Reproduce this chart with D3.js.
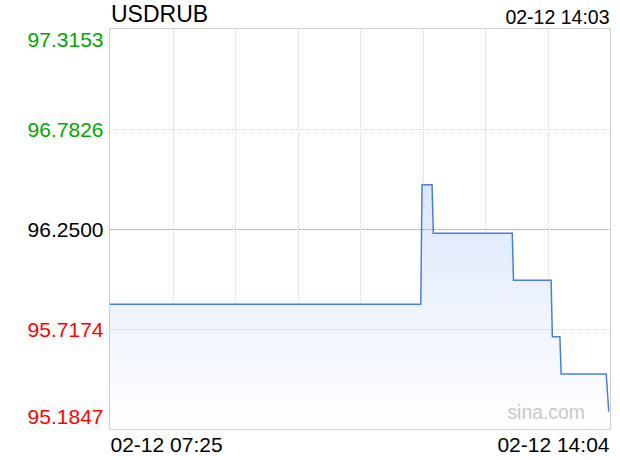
<!DOCTYPE html>
<html><head><meta charset="utf-8">
<script src="https://cdn.jsdelivr.net/npm/d3@7"></script>
<style>
html,body{margin:0;padding:0;background:#fff;}
svg{display:block;font-family:"Liberation Sans",Arial,Helvetica,sans-serif;}
</style></head>
<body>
<svg id="chart" width="620" height="460"></svg>
<script>
const symbol = "USDRUB";
const lastTime = "02-12 14:03";
const xStartLabel = "02-12 07:25";
const xEndLabel = "02-12 14:04";
const yTicks = [97.3153, 96.7826, 96.2500, 95.7174, 95.1847];
const yTickLabels = ["97.3153", "96.7826", "96.2500", "95.7174", "95.1847"];
const prevClose = 96.25;
const times  = ["07:25","11:33","11:34","11:42","11:43","12:46","12:47","13:17","13:18","13:24","13:25","14:01","14:03"];
const prices = [95.849, 95.849, 96.486, 96.486, 96.227, 96.227, 95.977, 95.977, 95.676, 95.676, 95.478, 95.478, 95.277];
const domainStart = "07:25", domainEnd = "14:04";

const parse = d3.timeParse("%H:%M");
const data = times.map((t,i)=>({t:parse(t), v:prices[i]}));

const L=110, R=610, T=29, B=429;
const svg = d3.select("#chart");
const x = d3.scaleTime().domain([parse(domainStart), parse(domainEnd)]).range([L,R]);
const y = d3.scaleLinear().domain([yTicks[4], yTicks[0]]).range([B,T]);

// gradient
const defs = svg.append("defs");
const g = defs.append("linearGradient").attr("id","fillg")
  .attr("gradientUnits","userSpaceOnUse").attr("x1",0).attr("x2",0)
  .attr("y1", y(d3.max(prices))).attr("y2", B);
g.append("stop").attr("offset","0%").attr("stop-color","#dce7fa");
g.append("stop").attr("offset","100%").attr("stop-color","#ffffff");

// vertical grid
const vg = d3.range(1,8).map(k => x.invert(L + k*(R-L)/8));
svg.append("g").selectAll("line").data(vg).join("line")
  .attr("x1",d=>Math.round(x(d))+0.5).attr("x2",d=>Math.round(x(d))+0.5)
  .attr("y1",T).attr("y2",B)
  .attr("stroke","#d4d4d4").attr("stroke-dasharray","1,1");

// area
const area = d3.area().x(d=>x(d.t)).y0(B).y1(d=>y(d.v));
svg.append("path").datum(data).attr("d",area).attr("fill","url(#fillg)");

// horizontal grid
svg.append("g").selectAll("line").data(yTicks.slice(1,4)).join("line")
  .attr("x1",L).attr("x2",R)
  .attr("y1",d=>Math.round(y(d))+0.5).attr("y2",d=>Math.round(y(d))+0.5)
  .attr("stroke",d=>d===prevClose?"#b0b0b0":"#d4d4d4")
  .attr("stroke-dasharray",d=>d===prevClose?"3,1":"1,1");

// line
const line = d3.line().x(d=>x(d.t)).y(d=>y(d.v));
svg.append("path").datum(data).attr("d",line)
  .attr("fill","none").attr("stroke","#4a7fd6").attr("stroke-width",1.5);

// frame
svg.append("rect").attr("x",L-0.5).attr("y",T-0.5).attr("width",R-L+1).attr("height",B-T+1)
  .attr("fill","none").attr("stroke","#d0d0d0");

// y labels
const yAxis = d3.axisLeft(y).tickValues(yTicks).tickSize(0).tickPadding(6)
  .tickFormat((d,i)=>yTickLabels[i]);
const ya = svg.append("g").attr("transform",`translate(${L-0.5},0)`).call(yAxis);
ya.select(".domain").remove();
ya.selectAll("text")
  .attr("font-family","\"Liberation Sans\",Arial,sans-serif")
  .attr("font-size",21)
  .attr("dy",null)
  .attr("y",(d,i)=> i===0 ? 17 : (i===4 ? -6 : 7.5))
  .attr("fill",d=> d>prevClose ? "#00a800" : (d<prevClose ? "#ff0000" : "#000"));

// titles
svg.append("text").attr("x",111).attr("y",22).attr("font-size",23).attr("fill","#000").text(symbol);
svg.append("text").attr("x",609.5).attr("y",24).attr("font-size",19.5).attr("text-anchor","end").attr("fill","#000").text(lastTime);
svg.append("text").attr("x",110.5).attr("y",452).attr("font-size",21).attr("fill","#000").text(xStartLabel);
svg.append("text").attr("x",609.5).attr("y",452).attr("font-size",21).attr("text-anchor","end").attr("fill","#000").text(xEndLabel);
svg.append("text").attr("x",585).attr("y",419).attr("font-size",19.4).attr("text-anchor","end").attr("fill","#c8c8c8").text("sina.com");
</script>
</body></html>
